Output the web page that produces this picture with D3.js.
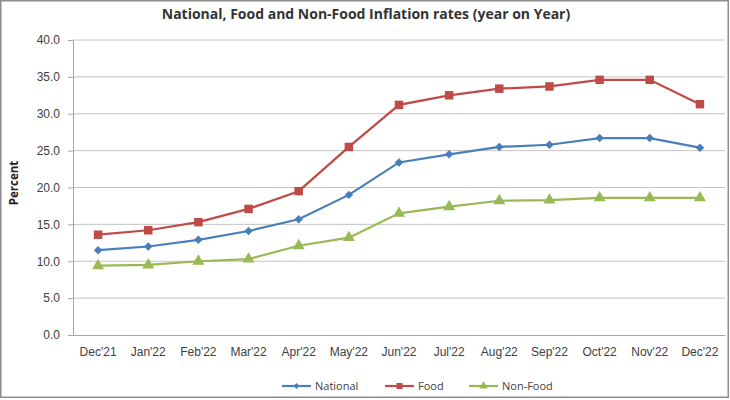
<!DOCTYPE html>
<html>
<head>
<meta charset="utf-8">
<script src="https://cdn.jsdelivr.net/npm/d3@7/dist/d3.min.js"></script>
<style>
  body { margin: 0; background: #fff; }
  svg { font-family: "Open Sans", "DejaVu Sans", sans-serif; }
  .axis text { fill: #404040; font-size: 12px; }
  .grid line { stroke: #c4c4c4; }
</style>
</head>
<body>
<script>
var months = ["Dec'21", "Jan'22", "Feb'22", "Mar'22", "Apr'22", "May'22", "Jun'22",
  "Jul'22", "Aug'22", "Sep'22", "Oct'22", "Nov'22", "Dec'22"];
var national = [11.5, 12.0, 12.9, 14.1, 15.7, 19.0, 23.4, 24.5, 25.5, 25.8, 26.7, 26.7, 25.4];
var food = [13.6, 14.2, 15.3, 17.1, 19.5, 25.5, 31.2, 32.5, 33.4, 33.7, 34.6, 34.6, 31.3];
var nonFood = [9.4, 9.5, 10.0, 10.3, 12.1, 13.2, 16.5, 17.4, 18.2, 18.3, 18.6, 18.6, 18.6];
var yTicks = [0, 5, 10, 15, 20, 25, 30, 35, 40];

// diamond = square turned 45 degrees
var series = [
  {name: "National", values: national, color: "#4a7ebb", symbol: d3.symbolSquare, size: 36, rot: 45},
  {name: "Food", values: food, color: "#be4b48", symbol: d3.symbolSquare, size: 72, rot: 0},
  {name: "Non-Food", values: nonFood, color: "#98b954", symbol: d3.symbolTriangle, size: 62, rot: 0}
];

var width = 730, height = 400;
var margin = {top: 40, right: 5, bottom: 65, left: 73};
var w = width - margin.left - margin.right,
  h = height - margin.top - margin.bottom;

var svg = d3.select("body").append("svg")
  .attr("width", width)
  .attr("height", height);

svg.append("rect")
  .attr("x", 0.75).attr("y", 0.75)
  .attr("width", width - 2.5).attr("height", height - 3.5)
  .attr("fill", "#fff")
  .attr("stroke", "#8c8c8c")
  .attr("stroke-width", 1.5);

svg.append("text")
  .attr("x", 366).attr("y", 19)
  .attr("text-anchor", "middle")
  .style("font-size", "14px")
  .style("font-weight", "bold")
  .style("fill", "#333")
  .text("National, Food and Non-Food Inflation rates (year on Year)");

var g = svg.append("g")
  .attr("transform", "translate(" + margin.left + "," + margin.top + ")");

var x = d3.scaleBand().domain(months).range([0, w]);
var y = d3.scaleLinear().domain([0, 40]).range([h, 0]);

g.append("g").attr("class", "grid")
  .selectAll("line")
  .data(yTicks.slice(1))
  .enter().append("line")
  .attr("x1", 0).attr("x2", w)
  .attr("y1", function(d) { return y(d); })
  .attr("y2", function(d) { return y(d); });

var yAxis = g.append("g").attr("class", "axis")
  .call(d3.axisLeft(y).tickValues(yTicks).tickFormat(d3.format(".1f")).tickSize(5).tickPadding(8));
yAxis.selectAll("line, path").attr("stroke", "#a6a6a6");

var xAxis = g.append("g").attr("class", "axis")
  .attr("transform", "translate(0," + h + ")")
  .call(d3.axisBottom(x).tickSize(0).tickPadding(12));
xAxis.selectAll("path").attr("stroke", "#a6a6a6");

svg.append("text")
  .attr("transform", "translate(18,183) rotate(-90)")
  .attr("text-anchor", "middle")
  .style("font-size", "11.5px")
  .style("font-weight", "bold")
  .style("fill", "#222")
  .text("Percent");

var line = d3.line()
  .x(function(d, i) { return x(months[i]) + x.bandwidth() / 2; })
  .y(function(d) { return y(d); });

series.forEach(function(s) {
  g.append("path")
    .datum(s.values)
    .attr("fill", "none")
    .attr("stroke", s.color)
    .attr("stroke-width", 2.2)
    .attr("d", line);

  g.selectAll(null)
    .data(s.values)
    .enter().append("path")
    .attr("d", d3.symbol().type(s.symbol).size(s.size))
    .attr("fill", s.color)
    .attr("transform", function(d, i) {
      return "translate(" + (x(months[i]) + x.bandwidth() / 2) + "," + y(d) + ") rotate(" + s.rot + ")";
    });
});

var legendX = [282, 385, 469];
var legend = svg.selectAll(".legend")
  .data(series)
  .enter().append("g")
  .attr("class", "legend")
  .attr("transform", function(d, i) { return "translate(" + legendX[i] + ",386)"; });

legend.append("line")
  .attr("x1", 0).attr("x2", 29)
  .attr("stroke", function(d) { return d.color; })
  .attr("stroke-width", 2.2);
legend.append("path")
  .attr("d", function(d) { return d3.symbol().type(d.symbol).size(d.size * 0.5)(); })
  .attr("transform", function(d) { return "translate(14.5,0) rotate(" + d.rot + ")"; })
  .attr("fill", function(d) { return d.color; });
legend.append("text")
  .attr("x", 33).attr("y", 4)
  .style("font-size", "11px")
  .style("fill", "#404040")
  .text(function(d) { return d.name; });
</script>
</body>
</html>
